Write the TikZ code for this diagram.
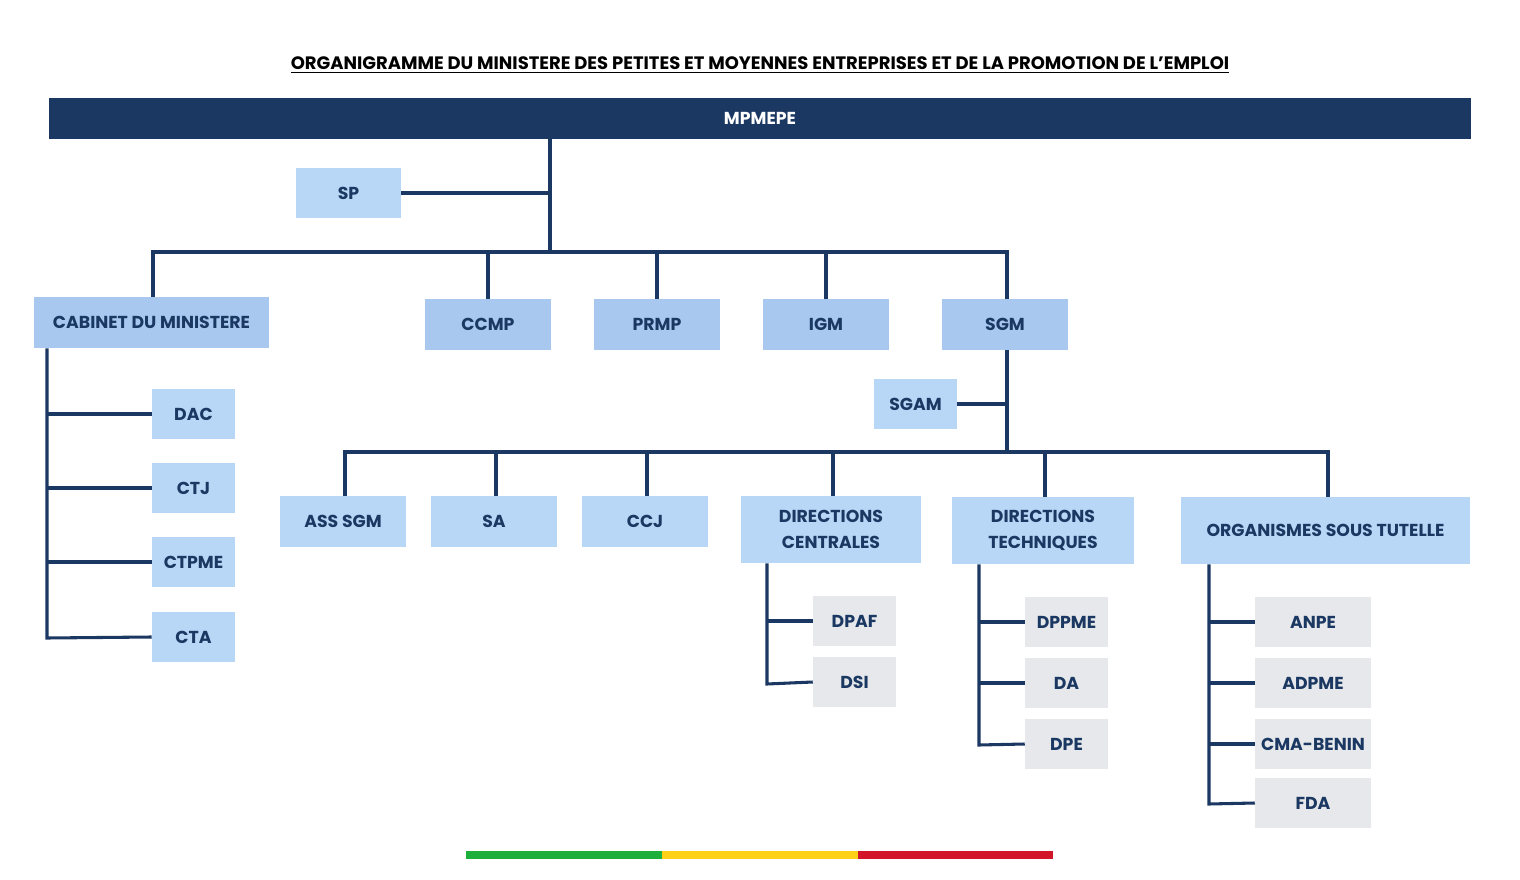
\documentclass[tikz,border=0pt]{standalone}
\usepackage{fontspec}
\setmainfont{Poppins}[BoldFont={Poppins Bold}]
\usetikzlibrary{positioning,calc}
\definecolor{navy}{HTML}{1B3862}
\definecolor{boxlight}{HTML}{B8D7F7}
\definecolor{boxmid}{HTML}{A8C8EF}
\definecolor{boxgrey}{HTML}{E6E8EB}
\definecolor{bgreen}{HTML}{1DAF3C}
\definecolor{byellow}{HTML}{FCD116}
\definecolor{bred}{HTML}{D21528}
\tikzset{
  unit/.style={inner sep=0pt, align=center, text=navy, font=\fontsize{13}{20}\selectfont\bfseries},
  light/.style={unit, fill=boxlight},
  mid/.style={unit, fill=boxmid},
  grey/.style={unit, fill=boxgrey},
  link/.style={draw=navy, line width=2.3pt}
}
\newcommand{\unitbox}[6]{% style, name, x1, y1, x2, y2
  \node[#1, minimum width={(#5-#3)*0.0264cm}, minimum height={(#6-#4)*0.0264cm}]
    (#2) at ({(#3+#5)/2},{(#4+#6)/2})}
\begin{document}
\begin{tikzpicture}[x=0.0264cm,y=-0.0264cm]
    \useasboundingbox (0,0) rectangle (1520,880);
    \node[text=black, font=\fontsize{13.5}{16}\selectfont\bfseries] (title) at (760,65)
        {\underline{ORGANIGRAMME DU MINISTERE DES PETITES ET MOYENNES ENTREPRISES ET DE LA PROMOTION DE L’EMPLOI}};
    \unitbox{unit, fill=navy, text=white}{mpmepe}{49}{98}{1471}{139} {MPMEPE};
    \unitbox{light}{sp}{296}{168}{401}{218} {SP};
    \unitbox{mid}{cab}{34}{297}{269}{348} {CABINET DU MINISTERE};
    \unitbox{mid}{ccmp}{425}{299}{551}{350} {CCMP};
    \unitbox{mid}{prmp}{594}{299}{720}{350} {PRMP};
    \unitbox{mid}{igm}{763}{299}{889}{350} {IGM};
    \unitbox{mid}{sgm}{942}{299}{1068}{350} {SGM};
    \unitbox{light}{sgam}{874}{379}{957}{429} {SGAM};
    \unitbox{light}{dac}{152}{389}{235}{439} {DAC};
    \unitbox{light}{ctj}{152}{463}{235}{513} {CTJ};
    \unitbox{light}{ctpme}{152}{537}{235}{587} {CTPME};
    \unitbox{light}{cta}{152}{612}{235}{662} {CTA};
    \unitbox{light}{asssgm}{280}{496}{406}{547} {ASS SGM};
    \unitbox{light}{sa}{431}{496}{557}{547} {SA};
    \unitbox{light}{ccj}{582}{496}{708}{547} {CCJ};
    \unitbox{light}{dirc}{741}{496}{921}{563} {DIRECTIONS\\CENTRALES};
    \unitbox{light}{dirt}{952}{497}{1134}{564} {DIRECTIONS\\TECHNIQUES};
    \unitbox{light}{org}{1181}{497}{1470}{564} {ORGANISMES SOUS TUTELLE};
    \unitbox{grey}{dpaf}{813}{596}{896}{646} {DPAF};
    \unitbox{grey}{dsi}{813}{657}{896}{707} {DSI};
    \unitbox{grey}{dppme}{1025}{597}{1108}{647} {DPPME};
    \unitbox{grey}{da}{1025}{658}{1108}{708} {DA};
    \unitbox{grey}{dpe}{1025}{719}{1108}{769} {DPE};
    \unitbox{grey}{anpe}{1255}{597}{1371}{647} {ANPE};
    \unitbox{grey}{adpme}{1255}{658}{1371}{708} {ADPME};
    \unitbox{grey}{cma}{1255}{719}{1371}{769} {CMA-BENIN};
    \unitbox{grey}{fda}{1255}{778}{1371}{828} {FDA};
    % top level
    \coordinate (hub) at (550,252);
    \coordinate (hubl) at (153,252);
    \coordinate (hubr) at (1007,252);
    \draw[link] (mpmepe.south -| hub) -- (hub);
    \draw[link] (sp.east) -- (sp.east -| hub);
    \draw[link] (cab.north -| hubl) -- (hubl) -- (hubr) -- (sgm.north -| hubr);
    \foreach \n in {ccmp,prmp,igm}
        \draw[link] (\n.north) -- (\n.north |- hub);
    % SGM level
    \coordinate (shub) at (1007,452);
    \coordinate (shubl) at (345,452);
    \coordinate (shubr) at (1328,452);
    \draw[link] (sgm.south -| shub) -- (shub);
    \draw[link] (sgam.east) -- (sgam.east -| shub);
    \draw[link] (asssgm.north -| shubl) -- (shubl) -- (shubr) -- (org.north -| shubr);
    \foreach \n/\x in {sa/496,ccj/647,dirc/833,dirt/1045}
        \draw[link] (\n.north -| \x,0) -- (\x,452);
    % rails
    \coordinate (cabrail) at (47,638);
    \draw[link] (cab.south -| cabrail) -- (cabrail) -- (cta.west);
    \foreach \n in {dac,ctj,ctpme}
        \draw[link] (\n.west) -- (\n.west -| cabrail);
    \coordinate (dcrail) at (767,684);
    \draw[link] (dirc.south -| dcrail) -- (dcrail) -- (dsi.west);
    \draw[link] (dpaf.west) -- (dpaf.west -| dcrail);
    \coordinate (dtrail) at (979,745);
    \draw[link] (dirt.south -| dtrail) -- (dtrail) -- (dpe.west);
    \foreach \n in {dppme,da}
        \draw[link] (\n.west) -- (\n.west -| dtrail);
    \coordinate (orgrail) at (1209,804);
    \draw[link] (org.south -| orgrail) -- (orgrail) -- (fda.west);
    \foreach \n in {anpe,adpme,cma}
        \draw[link] (\n.west) -- (\n.west -| orgrail);
    % flag band
    \fill[bgreen] (466,851) rectangle (662,859);
    \fill[byellow] (662,851) rectangle (858,859);
    \fill[bred] (858,851) rectangle (1053,859);
\end{tikzpicture}
\end{document}
